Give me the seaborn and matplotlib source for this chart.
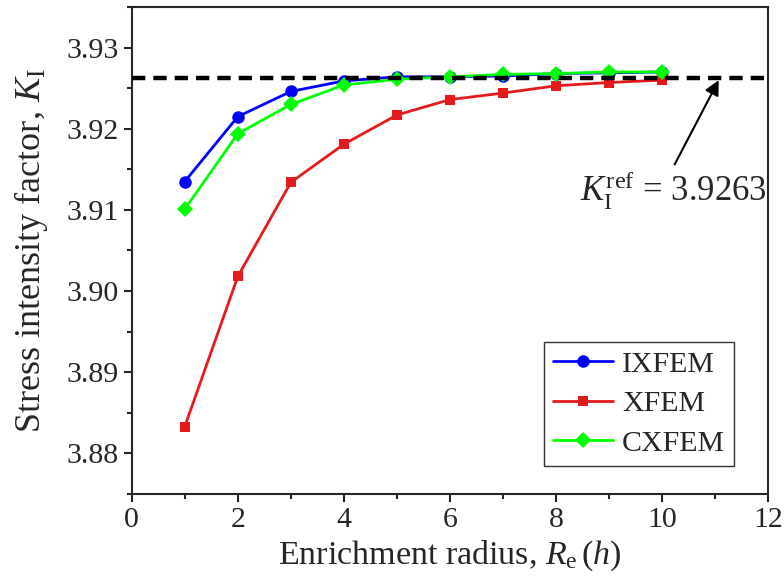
import matplotlib
matplotlib.use("Agg")
import matplotlib.pyplot as plt
import seaborn as sns
import pandas as pd

radius = [1, 2, 3, 4, 5, 6, 7, 8, 9, 10]
ixfem = [3.9135, 3.9215, 3.9246, 3.9259, 3.9264, 3.9264, 3.9265, 3.9268, 3.9269, 3.9270]
xfem = [3.8833, 3.9018, 3.9134, 3.9181, 3.9217, 3.9236, 3.9244, 3.9253, 3.9257, 3.9260]
cxfem = [3.9101, 3.9194, 3.9230, 3.9254, 3.9261, 3.9264, 3.9267, 3.9268, 3.9270, 3.9270]
k_ref = 3.9263
series_names = ["IXFEM", "XFEM", "CXFEM"]

sns.set_style("ticks")
plt.rcParams["font.family"] = ["Liberation Serif", "DejaVu Serif"]
plt.rcParams["mathtext.fontset"] = "custom"
plt.rcParams["mathtext.rm"] = "Liberation Serif"
plt.rcParams["mathtext.it"] = "Liberation Serif:italic"

df = pd.DataFrame({
    "x": radius * 3,
    "y": ixfem + xfem + cxfem,
    "method": [series_names[0]] * 10 + [series_names[1]] * 10 + [series_names[2]] * 10,
})

fig = plt.figure(figsize=(7.84, 5.88), dpi=100)
ax = fig.add_axes([0.168, 0.160, 0.812, 0.828])

palette = {"IXFEM": "#0000FF", "XFEM": "#E41A1C", "CXFEM": "#00FF00"}
markers = {"IXFEM": "o", "XFEM": "s", "CXFEM": "D"}
sizes = {"IXFEM": 9, "XFEM": 7, "CXFEM": 8}
for name in series_names:
    sub = df[df["method"] == name]
    sns.lineplot(data=sub, x="x", y="y", ax=ax, color=palette[name], marker=markers[name],
                 markersize=sizes[name], markeredgewidth=0, linewidth=2, label=name)

ax.axhline(k_ref, color="black", linewidth=3.2, linestyle=(0, (3, 1.8)), zorder=10)

ax.annotate("", xy=(11.09, k_ref), xytext=(10.21, 3.9153),
            arrowprops=dict(arrowstyle="-|>", color="black", lw=1.5, mutation_scale=22))
ax.text(11.97, 3.9110, r"$K_\mathrm{I}^\mathrm{ref}$ = 3.9263", ha="right", va="baseline", fontsize=25)

ax.set_xlim(0, 12)
ax.set_ylim(3.875, 3.935)
ax.set_xticks([0, 2, 4, 6, 8, 10, 12])
ax.set_xticks(range(0, 13), minor=True)
ax.set_yticks([3.88, 3.89, 3.90, 3.91, 3.92, 3.93])
ax.set_yticks([3.875 + 0.005 * i for i in range(13)], minor=True)
ax.set_yticklabels(["3.88", "3.89", "3.90", "3.91", "3.92", "3.93"])
ax.tick_params(axis="both", which="major", direction="out", length=6, width=1.5, labelsize=21.5)
ax.tick_params(axis="both", which="minor", direction="out", length=3.5, width=1.5)
for sp in ax.spines.values():
    sp.set_linewidth(1.5)
    sp.set_visible(True)

ax.set_xlabel(r"Enrichment radius, $R_\mathrm{e}\,(h)$", fontsize=24.5, labelpad=4)
ax.set_ylabel(r"Stress intensity factor, $K_\mathrm{I}$", fontsize=26, labelpad=12)

leg = ax.legend(loc="lower right", bbox_to_anchor=(0.946, 0.058), fontsize=21.5, frameon=True,
                fancybox=False, edgecolor="black", handlelength=2.0, borderpad=0.3,
                labelspacing=0.42, handletextpad=0.3, borderaxespad=0)
leg.get_frame().set_linewidth(1.0)

fig.savefig("out.png", dpi=100)
